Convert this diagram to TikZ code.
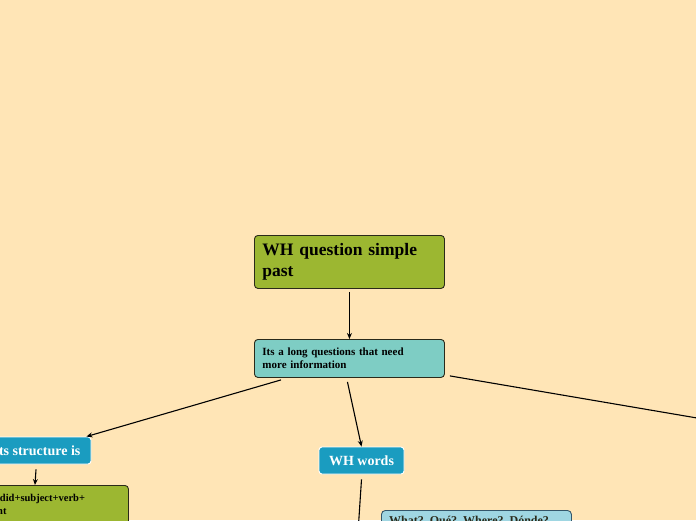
\documentclass[tikz,border=0pt]{standalone}
\usepackage{fontspec}
\setmainfont{Liberation Serif}
\usetikzlibrary{arrows.meta}
\definecolor{bgc}{HTML}{FFE5B6}
\definecolor{olive}{HTML}{9CB731}
\definecolor{teal}{HTML}{7ECDC4}
\definecolor{wblue}{HTML}{1A9CC0}
\definecolor{lblue}{HTML}{9FD6E2}
\definecolor{edgedark}{HTML}{2A2A1A}
\definecolor{slate}{HTML}{34566A}
\tikzset{
  box/.style={draw=edgedark, line width=0.9pt, rounded corners=3.5pt, anchor=north west, inner xsep=8pt, inner ysep=0pt, align=left, font=\bfseries},
  tag/.style={draw=white, line width=0.9pt, rounded corners=3pt, fill=wblue, text=white, font=\bfseries\fontsize{14}{16}\selectfont, inner sep=0pt},
  conn/.style={line width=1.1pt, -{Stealth[length=6pt,width=5pt]}},
  plain/.style={line width=1.1pt}
}
\begin{document}
\begin{tikzpicture}[x=1pt,y=1pt]
\fill[bgc] (0,0) rectangle (696,-520);
\useasboundingbox (0,0) rectangle (696,-520);
\begin{scope}
\clip (0,0) rectangle (696,-520);
\node[box, fill=olive, minimum width=190, minimum height=53, text width=174, font=\bfseries\fontsize{17.5}{21}\selectfont] (root) at (254,-235) {WH question simple\\past};
\node[box, fill=teal, minimum width=190, minimum height=38, text width=174, font=\bfseries\fontsize{11}{13}\selectfont] (info) at (254,-339) {Its a long questions that need\\more information};
\node[tag, minimum width=108, minimum height=27] (struct) at (37,-450.5) {Its structure is};
\node[tag, minimum width=85, minimum height=27] (words) at (361.5,-460.5) {WH words};
\node[anchor=north west, draw=edgedark, line width=0.9pt, rounded corners=3.5pt, fill=olive, minimum width=200, minimum height=55] (form) at (-72,-485) {};
\node[anchor=north west, align=left, inner sep=0pt, font=\bfseries\fontsize{10.5}{13}\selectfont] (formtext) at (-48.5,-494) {Wh word+did+subject+verb+\\complement};
\node[draw=slate, line width=0.9pt, rounded corners=4pt, fill=lblue, anchor=north west, minimum width=190, minimum height=50] (list) at (381,-510) {};
\node[anchor=north west, font=\bfseries\fontsize{12}{14}\selectfont, text=edgedark, inner sep=0pt] (listtext) at (389,-516) {What?\ \ Qué?\ \ Where?\ \ Dónde?};
\coordinate (offright) at (700,-418.5);
\coordinate (offdown) at (357.5,-540);
\draw[conn] ([yshift=-3pt]root.south) -- (info.north);
\draw[conn] ([xshift=27pt,yshift=-2pt]info.south west) -- ([xshift=-5pt]struct.north east);
\draw[conn] ([xshift=-2pt,yshift=-4pt]info.south) -- (words.north);
\draw[plain] ([xshift=5pt,yshift=2pt]info.south east) -- (offright);
\draw[conn] ([xshift=-1pt,yshift=-5pt]struct.south) -- ([xshift=-2pt]struct.south |- form.north);
\draw[plain] ([yshift=-5pt]words.south) -- (offdown);
\end{scope}
\end{tikzpicture}
\end{document}
